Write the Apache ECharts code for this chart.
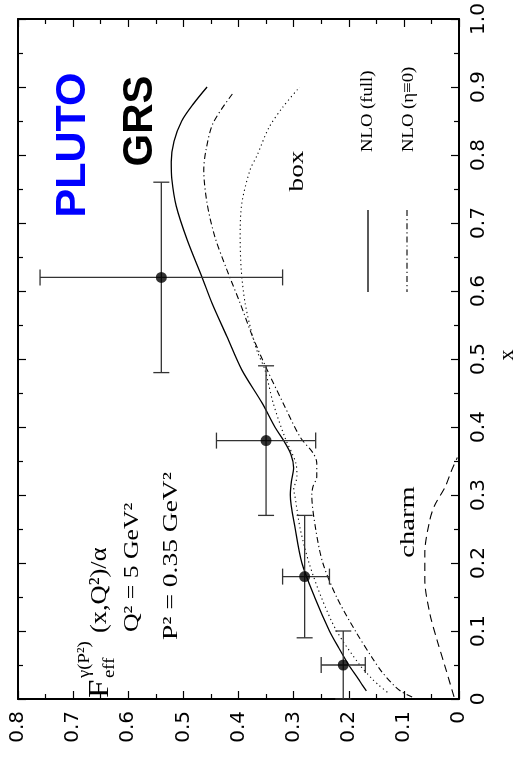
<!DOCTYPE html>
<html><head><meta charset="utf-8">
<script src="https://cdn.jsdelivr.net/npm/echarts@6/dist/echarts.min.js"></script>
<style>html,body{margin:0;padding:0;background:#fff}#c{width:531px;height:761px}</style>
</head><body><div id="c"></div>
<script>
// ---- data ----
const fTickLabels = ['0','0.1','0.2','0.3','0.4','0.5','0.6','0.7','0.8'];
const xTickLabels = ['0','0.1','0.2','0.3','0.4','0.5','0.6','0.7','0.8','0.9','1.0'];

const pointX     = [0.05, 0.18, 0.38, 0.62];
const pointXLow  = [0.0,  0.09, 0.27, 0.48];
const pointXHigh = [0.10, 0.27, 0.49, 0.76];
const pointF     = [0.21, 0.28, 0.35, 0.54];
const pointFLow  = [0.17, 0.235, 0.26, 0.32];
const pointFHigh = [0.25, 0.32, 0.44, 0.76];

const fullX = [0.012,0.02,0.03,0.05,0.075,0.1,0.15,0.2,0.25,0.3,0.32,0.34,0.36,0.38,0.4,0.435,0.484,0.533,0.582,0.62,0.675,0.725,0.765,0.79,0.82,0.85,0.875,0.9];
const fullF = [0.168,0.175,0.183,0.2,0.218,0.235,0.262,0.285,0.297,0.306,0.304,0.300,0.305,0.318,0.334,0.357,0.394,0.421,0.448,0.466,0.493,0.513,0.521,0.522,0.517,0.503,0.482,0.457];

const etaX = [0.003,0.01,0.02,0.04,0.06,0.1,0.15,0.2,0.25,0.3,0.312,0.327,0.347,0.362,0.385,0.435,0.484,0.532,0.582,0.631,0.68,0.729,0.778,0.807,0.847,0.891];
const etaF = [0.085,0.103,0.118,0.14,0.157,0.188,0.222,0.247,0.26,0.267,0.265,0.258,0.258,0.265,0.288,0.319,0.348,0.374,0.397,0.421,0.443,0.457,0.463,0.459,0.446,0.41];

const boxX = [0.01,0.02,0.03,0.05,0.1,0.15,0.2,0.25,0.3,0.307,0.327,0.347,0.385,0.435,0.484,0.509,0.532,0.582,0.631,0.68,0.729,0.778,0.8,0.84,0.87,0.9];
const boxF = [0.13,0.145,0.158,0.18,0.222,0.25,0.272,0.288,0.298,0.30,0.294,0.296,0.316,0.337,0.352,0.365,0.374,0.388,0.395,0.397,0.394,0.379,0.366,0.345,0.32,0.289];

const charmX = [0.003,0.047,0.087,0.126,0.175,0.215,0.263,0.285,0.312,0.335,0.355];
const charmF = [0.009,0.025,0.04,0.053,0.062,0.062,0.053,0.044,0.025,0.014,0.003];

// ---- chart ----
const zip = (f, x) => f.map((v, i) => [v, x[i]]);
const SERIF = '"Liberation Serif"';
const SANS = 'DejaVu Sans';

function fAxis(pos, showLabels) {
  return {
    type: 'value', min: 0, max: 0.8, interval: 0.1, inverse: true, position: pos,
    axisLine: {show: true, onZero: false, lineStyle: {color: '#000', width: 2}},
    axisTick: {show: true, inside: true, length: 8, lineStyle: {color: '#000', width: 1.2}},
    minorTick: {show: true, splitNumber: 2, length: 5, lineStyle: {color: '#000', width: 1.2}},
    splitLine: {show: false}, minorSplitLine: {show: false},
    axisLabel: {show: showLabels, rotate: 90, align: 'right', verticalAlign: 'middle', margin: 12,
      showMinLabel: true, showMaxLabel: true,
      fontFamily: SANS, fontSize: 20, color: '#000',
      formatter: v => fTickLabels[Math.round(v * 10)]}
  };
}
function xAxisV(pos, showLabels) {
  return {
    type: 'value', min: 0, max: 1, interval: 0.1, position: pos,
    axisLine: {show: true, onZero: false, lineStyle: {color: '#000', width: 2}},
    axisTick: {show: true, inside: true, length: 8, lineStyle: {color: '#000', width: 1.2}},
    minorTick: {show: true, splitNumber: 2, length: 5, lineStyle: {color: '#000', width: 1.2}},
    splitLine: {show: false}, minorSplitLine: {show: false},
    axisLabel: {show: showLabels, rotate: 90, align: 'center', verticalAlign: 'top', margin: 10,
      showMinLabel: true, showMaxLabel: true,
      fontFamily: SANS, fontSize: 20, color: '#000',
      formatter: v => xTickLabels[Math.round(v * 10)]}
  };
}

// rotated text (reads bottom to top); sx stretches along the reading direction
const rotText = (x, y, text, font, align, extra, sx) => ({
  type: 'text', x: x, y: y, rotation: Math.PI / 2, scaleX: sx || 1, silent: true,
  style: Object.assign({text: text, x: 0, y: 0, font: font, fill: '#000', align: align || 'center', verticalAlign: 'middle'}, extra || {})
});

const option = {
  animation: false,
  backgroundColor: '#fff',
  grid: {left: 18, top: 19, width: 441, height: 680, outerBoundsMode: 'none', containLabel: false},
  xAxis: [fAxis('bottom', true), fAxis('top', false)],
  yAxis: [xAxisV('right', true), xAxisV('left', false)],
  series: [
    {type: 'line', data: zip(fullF, fullX), smooth: 0.3, showSymbol: false, lineStyle: {color: '#000', width: 1.3}},
    {type: 'line', data: zip(etaF, etaX), smooth: 0.3, showSymbol: false, lineStyle: {color: '#000', width: 1.1, type: [6, 3, 1.2, 3]}},
    {type: 'line', data: zip(boxF, boxX), smooth: 0.3, showSymbol: false, lineStyle: {color: '#000', width: 1.1, type: [1.2, 3.2]}},
    {type: 'line', data: zip(charmF, charmX), smooth: 0.3, showSymbol: false, lineStyle: {color: '#000', width: 1.1, type: [8, 5]}},
    {type: 'custom', data: zip(pointF, pointX), z: 5,
      renderItem: (params, api) => {
        const i = params.dataIndex;
        const xl = api.coord([pointF[i], pointXLow[i]]), xh = api.coord([pointF[i], pointXHigh[i]]);
        const fl = api.coord([pointFLow[i], pointX[i]]), fh = api.coord([pointFHigh[i], pointX[i]]);
        const cap = 8;
        const st = {stroke: '#333', lineWidth: 1.3};
        const L = (x1, y1, x2, y2) => ({type: 'line', shape: {x1, y1, x2, y2}, style: st});
        return {type: 'group', children: [
          L(xl[0], xl[1], xh[0], xh[1]),
          L(xl[0] - cap, xl[1], xl[0] + cap, xl[1]),
          L(xh[0] - cap, xh[1], xh[0] + cap, xh[1]),
          L(fl[0], fl[1], fh[0], fh[1]),
          L(fl[0], fl[1] - cap, fl[0], fl[1] + cap),
          L(fh[0], fh[1] - cap, fh[0], fh[1] + cap)
        ]};
      }},
    {type: 'scatter', data: zip(pointF, pointX), symbol: 'circle', symbolSize: 11, z: 6, itemStyle: {color: '#000'}}
  ],
  graphic: [
    rotText(73, 145, 'PLUTO', 'bold 43px "Liberation Sans"', 'center', {fill: '#0000ff'}),
    rotText(140, 121, 'GRS', 'bold 42px "Liberation Sans"', 'center'),
    rotText(368, 152, 'NLO (full)', '17px ' + SERIF, 'left', null, 1.1),
    rotText(409, 152, 'NLO (η≡0)', '17px ' + SERIF, 'left', null, 1.1),
    {type: 'line', silent: true, shape: {x1: 368, y1: 210, x2: 368, y2: 292}, style: {stroke: '#000', lineWidth: 1.3}},
    {type: 'line', silent: true, shape: {x1: 407, y1: 210, x2: 407, y2: 292}, style: {stroke: '#000', lineWidth: 1.1, lineDash: [6, 3, 1.2, 3]}},
    rotText(297, 171, 'box', '21px ' + SERIF, 'center', null, 1.3),
    rotText(408, 522, 'charm', '22px ' + SERIF, 'center', null, 1.3),
    rotText(132, 632, 'Q² = 5 GeV²', '22px ' + SERIF, 'left', null, 1.17),
    rotText(171, 640, 'P² = 0.35 GeV²', '22px ' + SERIF, 'left', null, 1.25),
    rotText(100, 698, 'F', '30px ' + SERIF, 'left', null, 1.1),
    rotText(110, 678, 'eff', '17px ' + SERIF, 'left', null, 1.1),
    rotText(85, 678, 'γ(P²)', '17px ' + SERIF, 'left', null, 1.1),
    rotText(100, 633, '(x,Q²)/α', '24px ' + SERIF, 'left', null, 1.1),
    rotText(507, 355, 'x', '22px ' + SERIF)
  ]
};
const chart = echarts.init(document.getElementById('c'));
chart.setOption(option);
</script>
</body></html>
